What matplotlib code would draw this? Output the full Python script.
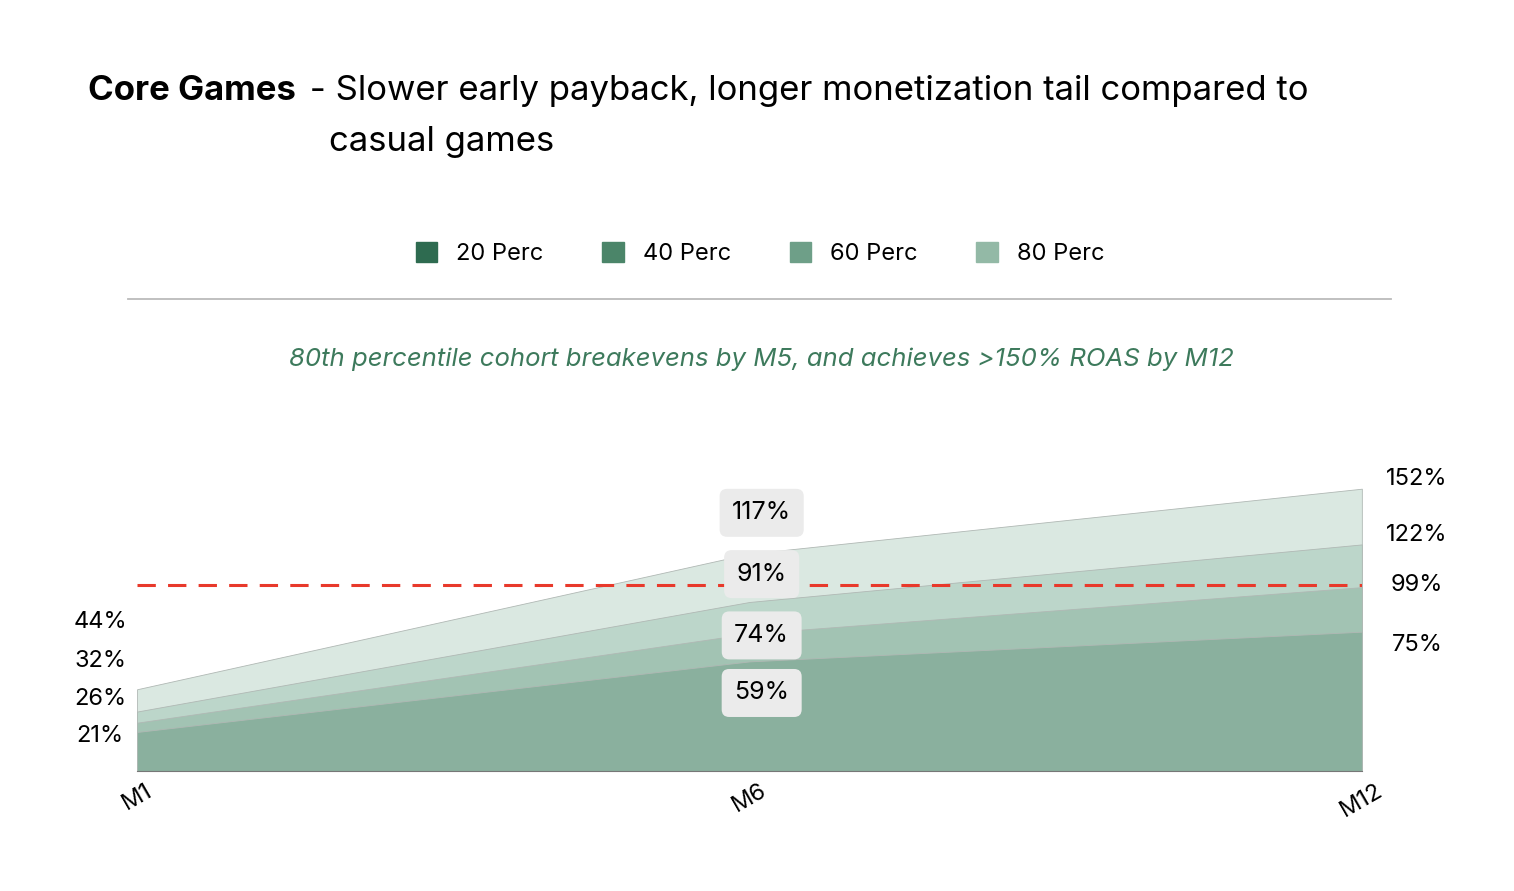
import matplotlib.pyplot as plt
from matplotlib.patches import Patch

months = ["M1", "M6", "M12"]
perc_labels = ["20 Perc", "40 Perc", "60 Perc", "80 Perc"]
p20 = [21, 59, 75]
p40 = [26, 74, 99]
p60 = [32, 91, 122]
p80 = [44, 117, 152]
BREAKEVEN = 100

FILL = ["#8ab09e", "#a2c3b3", "#bcd6ca", "#dae8e1"]
LEGEND = ["#2e6b50", "#4b8569", "#6e9f88", "#93b9a6"]
plt.rcParams["font.family"] = "Inter"

fig = plt.figure(figsize=(15.14, 8.91), dpi=100)
ax = fig.add_axes([0.0905, 0.1347, 0.809, 0.3335])
x = list(range(len(months)))
series = [p20, p40, p60, p80]
for s, c in reversed(list(zip(series, FILL))):
    ax.fill_between(x, 0, s, color=c, edgecolor="#b0b8b4", linewidth=0.6)
ax.axhline(BREAKEVEN, color="#e8392b", linestyle=(0, (6, 4)), linewidth=2.2)
ax.set_xlim(0, 2)
ax.set_ylim(0, 160)
ax.set_yticks([])
ax.set_xticks(x)
ax.set_xticklabels(months, rotation=30, fontsize=17)
ax.tick_params(axis="x", length=0, pad=6)
for sp in ["top", "left", "right"]:
    ax.spines[sp].set_visible(False)
ax.spines["bottom"].set_color("#777777")

# value labels
left_y = [19, 39, 59, 80]
right_y = [68, 100, 127, 157]
mid_y = [42, 73, 106, 139]
for i, s in enumerate(series):
    ax.text(-0.06, left_y[i], f"{s[0]}%", ha="center", va="center", fontsize=17)
    ax.text(2.09, right_y[i], f"{s[2]}%", ha="center", va="center", fontsize=17)
    ax.text(1.02, mid_y[i], f"{s[1]}%", ha="center", va="center", fontsize=18,
            bbox=dict(boxstyle="round,pad=0.5,rounding_size=0.3", fc="#ebebeb", ec="none"))

fig.text(0.058, 0.898, "Core Games", fontsize=25, fontweight="bold", va="center")
fig.text(0.198, 0.898, " - Slower early payback, longer monetization tail compared to",
         fontsize=25, va="center")
fig.text(0.2175, 0.841, "casual games", fontsize=25, va="center")

handles = [Patch(color=c) for c in LEGEND]
fig.legend(handles, perc_labels, loc="center", bbox_to_anchor=(0.502, 0.715), ncol=4,
           frameon=False, fontsize=17, handlelength=0.9, handleheight=0.9, columnspacing=2.5)
fig.add_artist(plt.Line2D([0.0845, 0.919], [0.664, 0.664], color="#bbbbbb", linewidth=1.3))
fig.text(0.503, 0.597, "80th percentile cohort breakevens by M5, and achieves >150% ROAS by M12",
         ha="center", va="center", fontsize=18.5, style="italic", color="#3d7a5c")

fig.savefig("out.png", dpi=100)
